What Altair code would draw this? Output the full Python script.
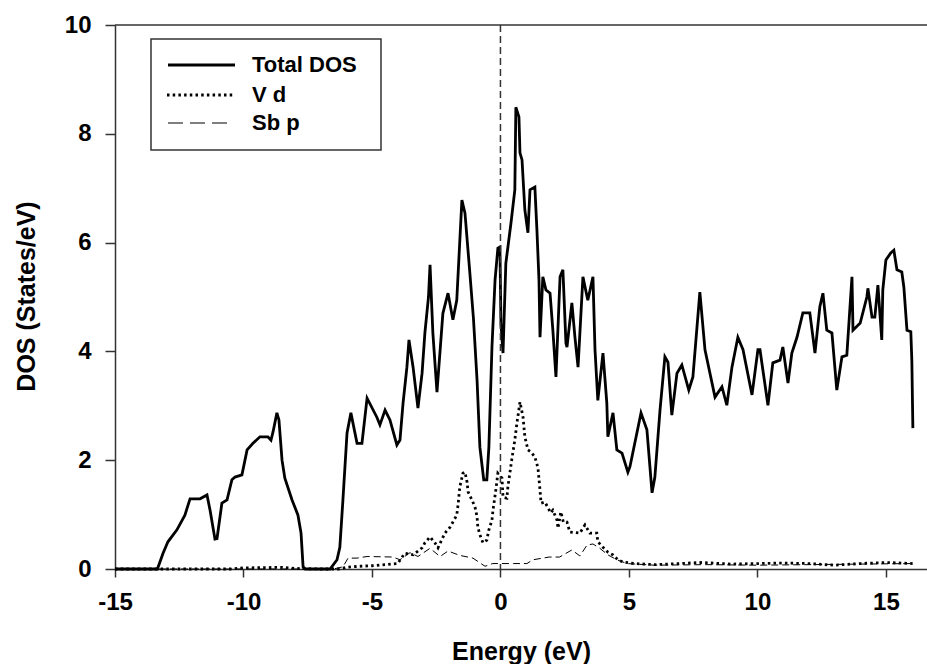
import altair as alt
import pandas as pd

# Energy grid (eV) and DOS (states/eV) for each curve
energy_total = [
    -15.0, -13.35, -13.13, -12.94, -12.59, -12.28, -12.08, -11.69, -11.42, -11.30,
    -11.11, -11.03, -10.84, -10.64, -10.45, -10.33, -10.06, -9.86, -9.63, -9.36,
    -9.05, -8.93, -8.85, -8.70, -8.62, -8.50, -8.39, -8.11, -7.88, -7.76,
    -7.68, -7.60, -6.63, -6.36, -6.25, -6.13, -5.97, -5.82, -5.58, -5.39,
    -5.19, -4.81, -4.69, -4.49, -4.30, -4.03, -3.91, -3.79, -3.64, -3.56,
    -3.40, -3.21, -3.05, -2.94, -2.80, -2.74, -2.63, -2.47, -2.24, -2.04,
    -1.85, -1.70, -1.50, -1.38, -1.19, -1.05, -0.91, -0.80, -0.65, -0.53,
    -0.45, -0.33, -0.21, -0.10, -0.02, 0.02, 0.10, 0.21, 0.41, 0.56,
    0.60, 0.72, 0.76, 0.84, 0.95, 1.07, 1.15, 1.34, 1.42, 1.50,
    1.54, 1.65, 1.77, 1.93, 2.04, 2.16, 2.32, 2.43, 2.55, 2.59,
    2.78, 2.90, 3.02, 3.21, 3.40, 3.60, 3.68, 3.79, 3.99, 4.14,
    4.18, 4.38, 4.53, 4.73, 4.96, 5.04, 5.47, 5.70, 5.90, 6.01,
    6.21, 6.40, 6.52, 6.67, 6.87, 7.06, 7.33, 7.49, 7.76, 7.96,
    8.35, 8.62, 8.81, 9.01, 9.24, 9.44, 9.79, 10.02, 10.10, 10.41,
    10.60, 10.88, 10.99, 11.19, 11.34, 11.54, 11.77, 12.04, 12.24, 12.43,
    12.55, 12.70, 12.90, 13.09, 13.29, 13.48, 13.68, 13.72, 14.00, 14.26,
    14.30, 14.46, 14.57, 14.69, 14.84, 14.88, 15.00, 15.19, 15.31, 15.43,
    15.62, 15.70, 15.82, 15.97, 16.01, 16.05,
]
dos_total = [
    0.0, 0.0, 0.29, 0.50, 0.72, 0.99, 1.29, 1.29, 1.36, 1.08,
    0.55, 0.56, 1.21, 1.27, 1.64, 1.69, 1.73, 2.19, 2.31, 2.43,
    2.43, 2.37, 2.52, 2.87, 2.74, 2.00, 1.67, 1.27, 0.99, 0.66,
    0.04, 0.0, 0.0, 0.17, 0.40, 1.27, 2.50, 2.87, 2.31, 2.31,
    3.14, 2.79, 2.65, 2.92, 2.74, 2.28, 2.37, 3.05, 3.71, 4.21,
    3.71, 2.96, 3.60, 4.34, 5.00, 5.59, 4.34, 3.25, 4.70, 5.07,
    4.58, 4.94, 6.78, 6.54, 5.44, 4.60, 3.47, 2.24, 1.64, 1.64,
    2.24, 4.08, 5.31, 5.90, 5.92, 4.52, 3.97, 5.62, 6.36, 6.97,
    8.49, 8.31, 7.65, 7.52, 6.60, 6.18, 6.97, 7.02, 6.23, 5.31,
    4.26, 5.37, 5.13, 5.07, 4.39, 3.53, 5.37, 5.50, 4.15, 4.08,
    4.89, 4.26, 3.71, 5.37, 4.94, 5.37, 4.03, 3.10, 3.97, 3.05,
    2.43, 2.87, 2.19, 2.13, 1.78, 1.88, 2.87, 2.56, 1.40, 1.69,
    2.92, 3.90, 3.80, 2.83, 3.60, 3.75, 3.29, 3.53, 5.09, 4.03,
    3.16, 3.35, 3.01, 3.71, 4.26, 4.03, 3.20, 4.03, 4.03, 3.01,
    3.79, 3.84, 4.08, 3.42, 3.97, 4.26, 4.71, 4.71, 3.97, 4.82,
    5.07, 4.39, 4.34, 3.29, 3.90, 3.93, 5.37, 4.39, 4.52, 5.00,
    5.16, 4.63, 4.63, 5.22, 4.21, 5.13, 5.68, 5.81, 5.86, 5.50,
    5.46, 5.18, 4.39, 4.36, 3.84, 2.59,
]

energy_vd = [
    -15.0, -10.5, -10.0, -8.5, -8.0, -7.0, -6.3, -6.0, -5.5, -5.0,
    -4.5, -4.0, -3.72, -3.40, -3.05, -2.94, -2.74, -2.55, -2.43, -2.16,
    -1.96, -1.70, -1.65, -1.58, -1.46, -1.38, -1.30, -1.26, -1.11, -0.99,
    -0.91, -0.88, -0.80, -0.68, -0.53, -0.45, -0.33, -0.29, -0.18, -0.10,
    0.06, 0.10, 0.25, 0.29, 0.45, 0.56, 0.64, 0.70, 0.76, 0.88,
    0.95, 1.07, 1.19, 1.34, 1.46, 1.54, 1.58, 1.73, 1.96, 2.04,
    2.20, 2.24, 2.35, 2.45, 2.59, 2.70, 3.09, 3.29, 3.48, 3.75,
    3.79, 3.99, 4.18, 4.38, 4.57, 4.77, 5.20, 6.0, 7.0, 7.8,
    9.0, 10.0, 11.0, 12.0, 13.0, 14.0, 15.0, 16.05,
]
dos_vd = [
    0.0, 0.0, 0.02, 0.03, 0.01, 0.0, 0.0, 0.03, 0.05, 0.06,
    0.08, 0.10, 0.29, 0.26, 0.39, 0.48, 0.59, 0.48, 0.39, 0.66,
    0.77, 0.99, 1.18, 1.51, 1.76, 1.78, 1.60, 1.42, 1.27, 1.14,
    0.96, 0.77, 0.63, 0.48, 0.53, 0.72, 0.90, 1.08, 1.45, 1.76,
    1.67, 1.32, 1.30, 1.51, 2.04, 2.37, 2.68, 2.87, 3.07, 2.79,
    2.43, 2.19, 2.15, 2.06, 1.86, 1.45, 1.21, 1.23, 1.03, 1.08,
    0.90, 0.75, 1.05, 0.86, 0.86, 0.68, 0.66, 0.81, 0.66, 0.66,
    0.50, 0.40, 0.31, 0.26, 0.17, 0.13, 0.10, 0.08, 0.10, 0.12,
    0.09, 0.10, 0.11, 0.10, 0.07, 0.10, 0.12, 0.10,
]

energy_sbp = [
    -15.0, -6.5, -6.13, -5.93, -5.58, -5.19, -4.18, -3.91, -3.52, -3.21,
    -2.74, -2.35, -2.04, -1.58, -1.07, -0.60, -0.30, 0.50, 1.03, 1.27,
    1.90, 2.30, 2.78, 3.09, 3.37, 3.60, 3.87, 4.18, 4.53, 4.92,
    6.0, 8.0, 10.0, 12.0, 14.0, 16.05,
]
dos_sbp = [
    0.0, 0.0, 0.04, 0.20, 0.20, 0.23, 0.22, 0.17, 0.30, 0.23,
    0.38, 0.23, 0.33, 0.25, 0.20, 0.05, 0.10, 0.10, 0.10, 0.17,
    0.22, 0.22, 0.35, 0.24, 0.44, 0.46, 0.38, 0.26, 0.17, 0.10,
    0.07, 0.08, 0.07, 0.08, 0.09, 0.10,
]

series_names = ["Total DOS", "V d", "Sb p"]
fermi_level = [0.0]
x_ticks = [-15, -10, -5, 0, 5, 10, 15]
y_ticks = [0, 2, 4, 6, 8, 10]

FONT = "Liberation Sans"
INK = "#333333"
W, H = 812, 544
VD_DASH = [2.5, 3.2]

total_df = pd.DataFrame({"E": energy_total, "DOS": dos_total})
vd_df = pd.DataFrame({"E": energy_vd, "DOS": dos_vd})
sbp_df = pd.DataFrame({"E": energy_sbp, "DOS": dos_sbp})

x_scale = alt.Scale(domain=[-15, 16.6], nice=False, zero=False)
y_scale = alt.Scale(domain=[0, 10], nice=False)

# plain hyphen-minus for negative tick labels
plain_label = "'' + datum.value"

x_axis = alt.Axis(
    values=x_ticks, title="Energy (eV)", grid=False, labelExpr=plain_label,
    tickSize=8, tickWidth=1.5, tickColor=INK, domainColor=INK, domainWidth=1.5,
    labelFont=FONT, labelFontSize=24, labelFontWeight="bold", labelColor="black",
    labelPadding=13, labelFlush=False,
    titleFont=FONT, titleFontSize=25, titleFontWeight="bold", titleColor="black",
    titleY=70, titleBaseline="top",
)
y_axis = alt.Axis(
    values=y_ticks, title="DOS (States/eV)", grid=False, labelExpr=plain_label,
    tickSize=10, tickWidth=1.5, tickColor=INK, domainColor=INK, domainWidth=1.5,
    labelFont=FONT, labelFontSize=24, labelFontWeight="bold", labelColor="black",
    labelPadding=14, labelFlush=False,
    titleFont=FONT, titleFontSize=25, titleFontWeight="bold", titleColor="black",
    titleX=-89, titleY=271, titleAngle=-90, titleAlign="center", titleBaseline="middle",
)

total = alt.Chart(total_df).mark_line(color="black", strokeWidth=2.8).encode(
    x=alt.X("E:Q", scale=x_scale, axis=x_axis),
    y=alt.Y("DOS:Q", scale=y_scale, axis=y_axis),
)
vd = alt.Chart(vd_df).mark_line(color="black", strokeWidth=2.8, strokeDash=VD_DASH).encode(
    x="E:Q", y="DOS:Q"
)
sbp = alt.Chart(sbp_df).mark_line(color="black", strokeWidth=1.0, strokeDash=[7, 4]).encode(
    x="E:Q", y="DOS:Q"
)
fermi = alt.Chart(pd.DataFrame({"E": fermi_level})).mark_rule(
    color=INK, strokeWidth=1.5, strokeDash=[7, 4]
).encode(x="E:Q")

# top frame line (right side falls outside the page)
top_edge = alt.Chart(pd.DataFrame({"k": [0]})).mark_rule(color=INK, strokeWidth=1.5).encode(
    x=alt.value(0), x2=alt.value(W), y=alt.value(0)
)

# legend box
legend_box = alt.Chart(pd.DataFrame({"k": [0]})).mark_rect(
    fill="white", stroke=INK, strokeWidth=1.5
).encode(x=alt.value(36), x2=alt.value(266), y=alt.value(14), y2=alt.value(125))

legend_styles = [
    dict(strokeWidth=2.8, y=40, x1=53, x2=120),
    dict(strokeWidth=2.8, y=70, x1=52, x2=118, strokeDash=VD_DASH),
    dict(strokeWidth=1.2, y=98, x1=53, x2=113, strokeDash=[15, 7]),
]
legend_layers = []
for name, st in zip(series_names, legend_styles):
    mk = dict(color="black", strokeWidth=st["strokeWidth"])
    if "strokeDash" in st:
        mk["strokeDash"] = st["strokeDash"]
    d = pd.DataFrame({"label": [name]})
    legend_layers.append(
        alt.Chart(d).mark_rule(**mk).encode(
            x=alt.value(st["x1"]), x2=alt.value(st["x2"]), y=alt.value(st["y"])
        )
    )
    legend_layers.append(
        alt.Chart(d).mark_text(
            align="left", baseline="middle", font=FONT, fontSize=22,
            fontWeight="bold", color="black",
        ).encode(x=alt.value(137), y=alt.value(st["y"]), text="label:N")
    )

chart = alt.layer(
    total, vd, sbp, fermi, top_edge, legend_box, *legend_layers
).properties(
    width=W, height=H,
    autosize=alt.AutoSizeParams(type="none"),
    padding={"left": 115, "top": 25, "right": 0, "bottom": 95},
    background="white",
).configure_view(stroke=None)

chart.save("out.html", embed_options={"renderer": "svg", "actions": False})
